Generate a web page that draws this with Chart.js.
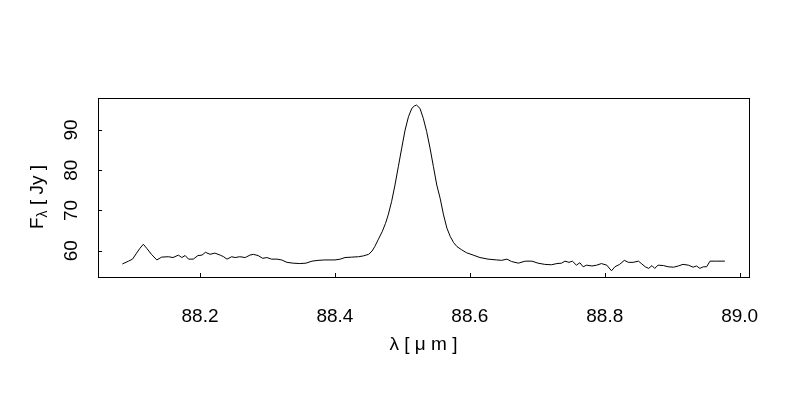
<!DOCTYPE html>
<html>
<head>
<meta charset="utf-8">
<script src="https://cdn.jsdelivr.net/npm/chart.js@4"></script>
<style>
  html, body { margin: 0; padding: 0; background: #fff; }
  #wrap { width: 800px; height: 400px; }
</style>
</head>
<body>
<div id="wrap"><canvas id="specChart" width="800" height="400"></canvas></div>
<script>
// wavelength in micron, flux in Jy
const wavelength = [
  88.085, 88.094, 88.100, 88.106, 88.111, 88.116, 88.121, 88.128, 88.136, 88.143,
  88.153, 88.160, 88.168, 88.173, 88.178, 88.183, 88.190, 88.197, 88.203, 88.208,
  88.215, 88.222, 88.230, 88.235, 88.240, 88.247, 88.252, 88.259, 88.267, 88.274,
  88.279, 88.286, 88.293, 88.299, 88.306, 88.314, 88.321, 88.329, 88.338, 88.348,
  88.357, 88.366, 88.375, 88.385, 88.400, 88.408, 88.415, 88.425, 88.435, 88.442,
  88.450, 88.455, 88.459, 88.464, 88.470, 88.475, 88.479, 88.484, 88.489, 88.494,
  88.499, 88.504, 88.509, 88.514, 88.518, 88.521, 88.526, 88.531, 88.536, 88.541,
  88.546, 88.551, 88.556, 88.561, 88.566, 88.571, 88.576, 88.581, 88.588, 88.595,
  88.605, 88.615, 88.627, 88.640, 88.647, 88.655, 88.662, 88.672, 88.682, 88.692,
  88.701, 88.711, 88.721, 88.729, 88.736, 88.741, 88.747, 88.752, 88.758, 88.763,
  88.768, 88.773, 88.781, 88.788, 88.795, 88.803, 88.810, 88.815, 88.822, 88.829,
  88.835, 88.842, 88.850, 88.855, 88.860, 88.865, 88.870, 88.874, 88.879, 88.887,
  88.894, 88.902, 88.909, 88.916, 88.924, 88.931, 88.936, 88.941, 88.946, 88.951,
  88.956, 88.966, 88.978
];
const flux = [
  56.7, 57.4, 57.9, 59.4, 60.6, 61.6, 60.6, 59.1, 57.7, 58.4,
  58.5, 58.3, 58.9, 58.3, 58.8, 57.9, 57.9, 58.8, 58.9, 59.6,
  59.1, 59.4, 58.9, 58.5, 57.9, 58.5, 58.3, 58.5, 58.3, 58.9,
  59.1, 58.8, 58.1, 58.3, 57.9, 57.9, 57.7, 57.1, 56.9, 56.8,
  56.9, 57.4, 57.6, 57.7, 57.7, 57.9, 58.3, 58.4, 58.5, 58.7,
  59.1, 59.9, 61.0, 62.7, 64.7, 66.8, 68.9, 72.2, 76.3, 80.9,
  85.5, 90.0, 93.3, 95.4, 96.0, 96.2, 95.4, 92.9, 89.6, 85.5,
  80.9, 76.3, 73.0, 68.9, 65.6, 63.5, 62.0, 61.0, 60.2, 59.5,
  58.9, 58.3, 57.9, 57.7, 57.6, 57.9, 57.3, 56.9, 57.4, 57.4,
  56.9, 56.6, 56.5, 56.8, 56.9, 57.4, 57.1, 57.4, 56.4, 57.0,
  56.0, 56.4, 56.2, 56.4, 56.8, 56.4, 55.0, 56.0, 56.6, 57.6,
  57.1, 57.1, 57.4, 56.7, 56.0, 55.6, 56.3, 55.6, 56.4, 56.3,
  56.0, 55.9, 56.2, 56.6, 56.4, 55.9, 56.2, 55.6, 56.0, 56.0,
  57.4, 57.4, 57.4
];
const xTicks = [88.2, 88.4, 88.6, 88.8, 89.0];
const yTicks = [60, 70, 80, 90];

const FONT = '"Liberation Sans", Arial, Helvetica, sans-serif';

// R-style frame: box, inward ticks, labels and axis titles
const frame = {
    id: 'frame',
    afterDraw(chart) {
        const ctx = chart.ctx;
        const a = chart.chartArea;
        const xs = chart.scales.x;
        const ys = chart.scales.y;
        ctx.save();
        ctx.strokeStyle = '#000';
        ctx.lineWidth = 1;
        ctx.strokeRect(a.left + 0.5, a.top + 0.5, a.right - a.left, a.bottom - a.top);

        ctx.beginPath();
        xTicks.forEach(v => {
            const px = Math.round(xs.getPixelForValue(v)) + 0.5;
            ctx.moveTo(px, a.bottom);
            ctx.lineTo(px, a.bottom - 4);
        });
        yTicks.forEach(v => {
            const py = Math.round(ys.getPixelForValue(v)) + 0.5;
            ctx.moveTo(a.left, py);
            ctx.lineTo(a.left + 4, py);
        });
        ctx.stroke();

        ctx.fillStyle = '#000';
        ctx.font = '19px ' + FONT;
        ctx.textAlign = 'center';
        ctx.textBaseline = 'middle';
        xTicks.forEach(v => {
            ctx.fillText(v.toFixed(1), xs.getPixelForValue(v), 317);
        });
        yTicks.forEach(v => {
            ctx.save();
            ctx.translate(72, ys.getPixelForValue(v));
            ctx.rotate(-Math.PI / 2);
            ctx.fillText(String(v), 0, 0);
            ctx.restore();
        });

        // x title
        ctx.fillText('λ [ μ m ]', (a.left + a.right) / 2, 345);

        // y title with subscript lambda
        ctx.save();
        ctx.translate(36, 197);
        ctx.rotate(-Math.PI / 2);
        ctx.textAlign = 'left';
        ctx.textBaseline = 'alphabetic';
        const big = '19px ' + FONT;
        const small = '14px ' + FONT;
        ctx.font = big;
        const wF = ctx.measureText('F').width;
        const wRest = ctx.measureText(' [ Jy ]').width;
        ctx.font = small;
        const wSub = ctx.measureText('λ').width;
        let x0 = -(wF + wSub + wRest) / 2;
        const base = 7;
        ctx.font = big;
        ctx.fillText('F', x0, base);
        ctx.font = small;
        ctx.fillText('λ', x0 + wF, base + 4);
        ctx.font = big;
        ctx.fillText(' [ Jy ]', x0 + wF + wSub, base);
        ctx.restore();

        ctx.restore();
    }
};

const points = wavelength.map((w, i) => ({ x: w, y: flux[i] }));

new Chart(document.getElementById('specChart').getContext('2d'), {
    type: 'line',
    data: {
        datasets: [{
            data: points,
            borderColor: '#000',
            borderWidth: 1,
            pointRadius: 0,
            fill: false,
            tension: 0
        }]
    },
    options: {
        responsive: false,
        animation: false,
        layout: { padding: { left: 98, top: 98, right: 51, bottom: 123 } },
        plugins: { legend: { display: false }, tooltip: { enabled: false } },
        scales: {
            x: { type: 'linear', min: 88.0488, max: 89.0138, display: false },
            y: { type: 'linear', min: 53.46, max: 97.96, display: false }
        }
    },
    plugins: [frame]
});
</script>
</body>
</html>
